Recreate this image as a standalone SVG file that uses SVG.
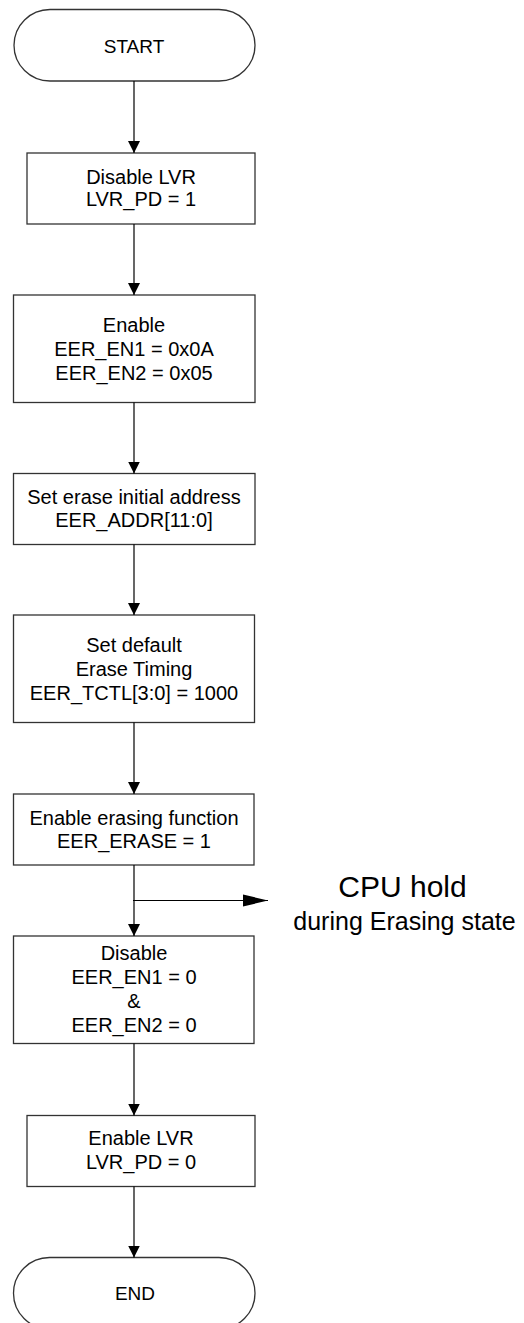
<svg xmlns="http://www.w3.org/2000/svg" width="524" height="1323" viewBox="0 0 524 1323">
<style>
.shape{fill:#fff;stroke:#333;stroke-width:1.3}
.t{font-family:"Liberation Sans",Arial,sans-serif;font-size:20px;fill:#000;text-anchor:middle}
.term{font-size:19px}
.conn{stroke:#000;stroke-width:1.2;fill:none}
</style>
<defs>
<marker id="ah" markerUnits="userSpaceOnUse" markerWidth="12" markerHeight="12" refX="12" refY="6" orient="auto">
<path d="M0,0 L12,6 L0,12 Z" fill="#000"/>
</marker>
<marker id="ah2" markerUnits="userSpaceOnUse" markerWidth="25" markerHeight="14" refX="25" refY="7" orient="auto">
<path d="M0,1 L25,7 L0,13 Z" fill="#000"/>
</marker>
</defs>
<g id="start">
<rect class="shape" x="14" y="9.5" width="241" height="71.5" rx="36" ry="36"/>
<text class="t term" x="134" y="52.5">START</text>
</g>
<g id="disable-lvr">
<rect class="shape" x="27" y="153" width="228" height="71"/>
<text class="t" x="141" y="183.5">Disable LVR</text>
<text class="t" x="141" y="205.5">LVR_PD = 1</text>
</g>
<g id="enable">
<rect class="shape" x="13.5" y="295" width="241.5" height="107.5"/>
<text class="t" x="134" y="332">Enable</text>
<text class="t" x="134" y="356">EER_EN1 = 0x0A</text>
<text class="t" x="134" y="380">EER_EN2 = 0x05</text>
</g>
<g id="set-addr">
<rect class="shape" x="13.5" y="473.5" width="241.5" height="71"/>
<text class="t" x="134" y="503.5">Set erase initial address</text>
<text class="t" x="134" y="526.5">EER_ADDR[11:0]</text>
</g>
<g id="set-timing">
<rect class="shape" x="13.5" y="615" width="241" height="107.5"/>
<text class="t" x="134" y="652">Set default</text>
<text class="t" x="134" y="676">Erase Timing</text>
<text class="t" x="134" y="700">EER_TCTL[3:0] = 1000</text>
</g>
<g id="enable-erase">
<rect class="shape" x="13.5" y="794" width="240.5" height="71"/>
<text class="t" x="134" y="824.5">Enable erasing function</text>
<text class="t" x="134" y="848">EER_ERASE = 1</text>
</g>
<g id="cpu-hold">
<text class="t" x="402.5" y="897" style="font-size:30px">CPU hold</text>
<text class="t" x="404.5" y="930" style="font-size:25px">during Erasing state</text>
</g>
<g id="disable">
<rect class="shape" x="13.5" y="936" width="240.5" height="107.5"/>
<text class="t" x="134" y="960">Disable</text>
<text class="t" x="134" y="984">EER_EN1 = 0</text>
<text class="t" x="134" y="1008">&amp;</text>
<text class="t" x="134" y="1032">EER_EN2 = 0</text>
</g>
<g id="enable-lvr">
<rect class="shape" x="27" y="1115.5" width="228" height="71"/>
<text class="t" x="141" y="1145">Enable LVR</text>
<text class="t" x="141" y="1168.5">LVR_PD = 0</text>
</g>
<g id="end">
<rect class="shape" x="13.5" y="1257.5" width="241.5" height="71.5" rx="36" ry="36"/>
<text class="t term" x="135" y="1300">END</text>
</g>
<g id="connectors">
<line class="conn" x1="134" y1="81" x2="134" y2="153" marker-end="url(#ah)"/>
<line class="conn" x1="134" y1="224" x2="134" y2="295" marker-end="url(#ah)"/>
<line class="conn" x1="134" y1="402.5" x2="134" y2="473.5" marker-end="url(#ah)"/>
<line class="conn" x1="134" y1="544.5" x2="134" y2="615" marker-end="url(#ah)"/>
<line class="conn" x1="134" y1="722.5" x2="134" y2="794" marker-end="url(#ah)"/>
<line class="conn" x1="134" y1="865" x2="134" y2="936" marker-end="url(#ah)"/>
<line class="conn" x1="133" y1="900.5" x2="268" y2="900.5" marker-end="url(#ah2)"/>
<line class="conn" x1="134" y1="1043.5" x2="134" y2="1115.5" marker-end="url(#ah)"/>
<line class="conn" x1="134" y1="1186.5" x2="134" y2="1257.5" marker-end="url(#ah)"/>
</g>
</svg>
